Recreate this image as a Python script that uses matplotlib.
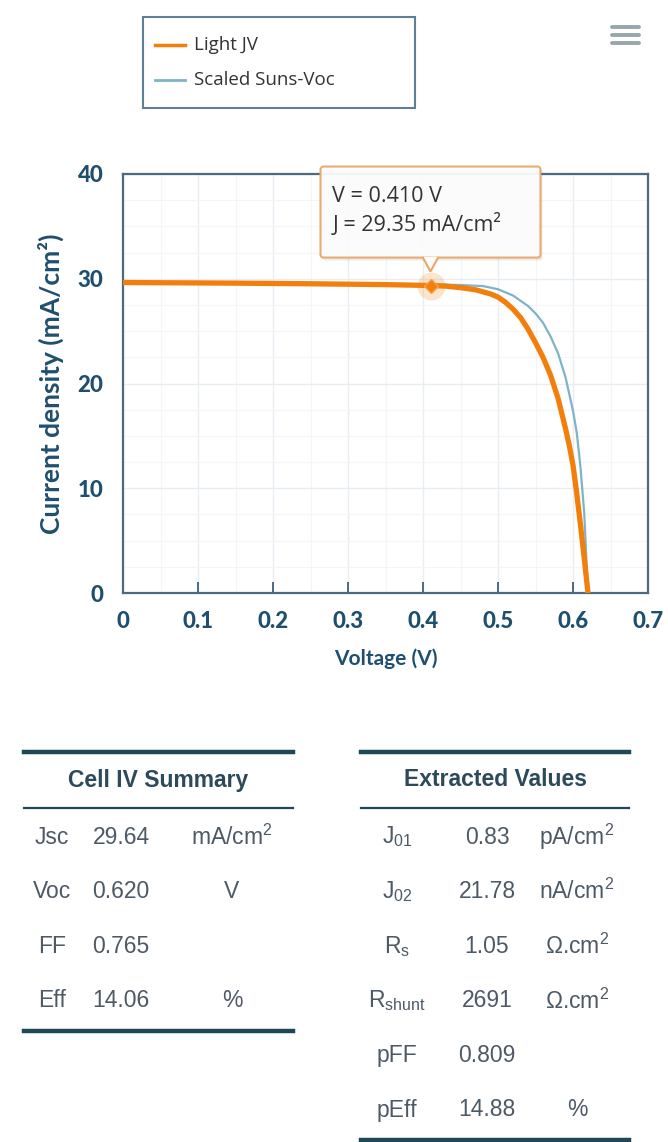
import matplotlib.pyplot as plt
import matplotlib.patches as mpatches
from matplotlib.ticker import FuncFormatter, MultipleLocator

plt.rcParams['mathtext.fontset'] = 'custom'
plt.rcParams['mathtext.rm'] = 'Liberation Sans'
plt.rcParams['mathtext.it'] = 'Liberation Sans'

# light JV curve (V, mA/cm2)
voltage_jv = [0.0, 0.05, 0.10, 0.15, 0.20, 0.25, 0.30, 0.35, 0.40, 0.41, 0.43, 0.45,
              0.47, 0.49, 0.50, 0.51, 0.52, 0.53, 0.54, 0.55, 0.56, 0.57, 0.58,
              0.59, 0.595, 0.60, 0.605, 0.61, 0.615, 0.62]
current_jv = [29.64, 29.62, 29.60, 29.58, 29.55, 29.52, 29.48, 29.44, 29.37, 29.35, 29.30, 29.15,
              28.95, 28.55, 28.25, 27.75, 27.10, 26.30, 25.20, 23.90, 22.50, 20.80, 18.60,
              15.70, 14.10, 12.20, 9.50, 6.50, 3.30, 0.0]

# scaled Suns-Voc curve
voltage_suns = [0.0, 0.10, 0.20, 0.30, 0.40, 0.45, 0.48, 0.50, 0.52, 0.54, 0.55, 0.56,
                0.57, 0.58, 0.59, 0.60, 0.605, 0.61, 0.615, 0.62]
current_suns = [29.64, 29.62, 29.58, 29.54, 29.48, 29.40, 29.30, 29.00, 28.40, 27.40, 26.70, 25.80,
                24.50, 22.90, 20.60, 17.40, 15.30, 12.00, 7.60, 0.0]

hover_v = 0.410
hover_j = 29.35

summary_names = ['Jsc', 'Voc', 'FF', 'Eff']
summary_values = ['29.64', '0.620', '0.765', '14.06']
summary_units = [r'mA/cm$^2$', 'V', '', '%']

extracted_names = [r'J$_{01}$', r'J$_{02}$', r'R$_{s}$', r'R$_{shunt}$', 'pFF', 'pEff']
extracted_values = ['0.83', '21.78', '1.05', '2691', '0.809', '14.88']
extracted_units = [r'pA/cm$^2$', r'nA/cm$^2$', r'Ω.cm$^2$', r'Ω.cm$^2$', '', '%']

W, H = 668, 1142
ORANGE = '#f27f0c'
BLUE = '#7fb3c9'
AXIS_BLUE = '#1f4f6e'
FRAME = '#4d6a80'
TABLE_LINE = '#1d4858'
TXT = '#4d5a66'

fig = plt.figure(figsize=(W / 100, H / 100), dpi=100)
fig.patch.set_facecolor('white')

# main JV plot
ax = fig.add_axes([123 / W, 1 - 593 / H, 525 / W, 419 / H])
ax.plot(voltage_suns, current_suns, color=BLUE, lw=1.6, zorder=3)
ax.plot(voltage_jv, current_jv, color=ORANGE, lw=3.8, zorder=4, solid_capstyle='butt')
ax.set_xlim(0, 0.7)
ax.set_ylim(0, 40)
ax.xaxis.set_major_locator(MultipleLocator(0.1))
ax.xaxis.set_minor_locator(MultipleLocator(0.05))
ax.yaxis.set_major_locator(MultipleLocator(10))
ax.yaxis.set_minor_locator(MultipleLocator(2.5))
ax.xaxis.set_major_formatter(FuncFormatter(lambda v, p: '0' if abs(v) < 1e-9 else f'{v:.1f}'))
ax.grid(which='major', color='#e8edf2', lw=1.0)
ax.grid(which='minor', color='#f3f6f8', lw=0.8)
ax.set_axisbelow(True)
for s in ax.spines.values():
    s.set_color(FRAME)
    s.set_linewidth(1.6)
ax.tick_params(axis='x', which='major', direction='in', length=8, width=1.4, color=FRAME,
               pad=13, labelsize=16, labelcolor=AXIS_BLUE)
ax.tick_params(axis='x', which='minor', length=0)
ax.tick_params(axis='y', which='both', length=0, pad=14, labelsize=16, labelcolor=AXIS_BLUE)
for lab in ax.get_xticklabels() + ax.get_yticklabels():
    lab.set_fontweight('black')
    lab.set_fontfamily('Lato')
ax.set_xlabel('Voltage (V)', fontsize=15, fontweight='bold', color=AXIS_BLUE,
              family='Lato', labelpad=12)
ax.set_ylabel('Current density (mA/cm²)', fontsize=19, fontweight='bold', color=AXIS_BLUE,
              family='Lato', labelpad=10)

# hovered point
ax.plot([hover_v], [hover_j], marker='o', ms=20, color=ORANGE, alpha=0.2, zorder=5,
        markeredgewidth=0)
ax.plot([hover_v], [hover_j], marker='D', ms=7, color=ORANGE, zorder=6,
        markeredgecolor='#f6a04a', markeredgewidth=1)

# overlay in pixel units for legend, tooltip, tables
ov = fig.add_axes([0, 0, 1, 1])
ov.set_xlim(0, W)
ov.set_ylim(H, 0)
ov.axis('off')
ov.set_zorder(5)
ov.patch.set_alpha(0)

# legend box
ov.add_patch(mpatches.Rectangle((143, 17), 272, 91, fill=False, ec='#5f8092', lw=1.5))
ov.plot([155, 185], [45, 45], color=ORANGE, lw=2.5)
ov.plot([155, 185], [80, 80], color=BLUE, lw=2)
ov.text(194, 45, 'Light JV', fontsize=13.5, family='Open Sans', color='#333333', va='center')
ov.text(194, 80, 'Scaled Suns-Voc', fontsize=13.5, family='Open Sans', color='#333333', va='center')

# menu icon
for yy in (27, 35, 43):
    ov.plot([612, 639], [yy, yy], color='#97a6ad', lw=2.8, solid_capstyle='round')

# tooltip pinned to hovered point
mx, my = ov.transData.inverted().transform(ax.transData.transform((hover_v, hover_j)))
bx0, bx1 = mx - 110, mx + 110
by0, by1 = my - 119, my - 28
ov.add_patch(mpatches.FancyBboxPatch((bx0 + 2, by0 + 3), bx1 - bx0, by1 - by0,
                                     boxstyle='round,pad=0,rounding_size=3',
                                     fc='#000000', ec='none', alpha=0.08))
ov.add_patch(mpatches.FancyBboxPatch((bx0, by0), bx1 - bx0, by1 - by0,
                                     boxstyle='round,pad=0,rounding_size=3',
                                     fc='#fcfcfc', ec='#e8a868', lw=1.5, alpha=0.95))
ov.add_patch(mpatches.Polygon([[mx - 8, by1 - 0.8], [mx, my - 14], [mx + 8, by1 - 0.8]],
                              closed=False, fc='#fcfcfc', ec='#e8a868', lw=1.5))
ov.text(bx0 + 12, by0 + 30, f'V = {hover_v:.3f} V', fontsize=15.5, family='Open Sans',
        color='#333333', va='center')
ov.text(bx0 + 12, by0 + 58, f'J = {hover_j:.2f} mA/cm²', fontsize=15.5, family='Open Sans',
        color='#333333', va='center')


def draw_table(x0, x1, title, names, values, units, name_x, value_x, unit_x):
    ov.plot([x0, x1], [752, 752], color=TABLE_LINE, lw=3.2)
    ov.text((x0 + x1) / 2, 780, title, fontsize=16.5, fontweight='bold', family='Liberation Sans',
            color='#2c4a5a', ha='center', va='center')
    ov.plot([x0, x1], [808, 808], color=TABLE_LINE, lw=1.6)
    row_y = 837
    for name, val, unit in zip(names, values, units):
        ov.text(name_x, row_y, name, fontsize=16.5, family='Liberation Sans', color=TXT,
                ha='center', va='center')
        ov.text(value_x, row_y, val, fontsize=16.5, family='Liberation Sans', color=TXT,
                ha='center', va='center')
        ov.text(unit_x, row_y, unit, fontsize=16.5, family='Liberation Sans', color=TXT,
                ha='center', va='center')
        row_y += 54.6
    ov.plot([x0, x1], [row_y - 54.6 + 30, row_y - 54.6 + 30], color=TABLE_LINE, lw=3.2)


draw_table(24, 293, 'Cell IV Summary', summary_names, summary_values, summary_units,
           52, 121, 232)
draw_table(361, 629, 'Extracted Values', extracted_names, extracted_values, extracted_units,
           397, 487, 577)

fig.savefig('out.png', dpi=100)
